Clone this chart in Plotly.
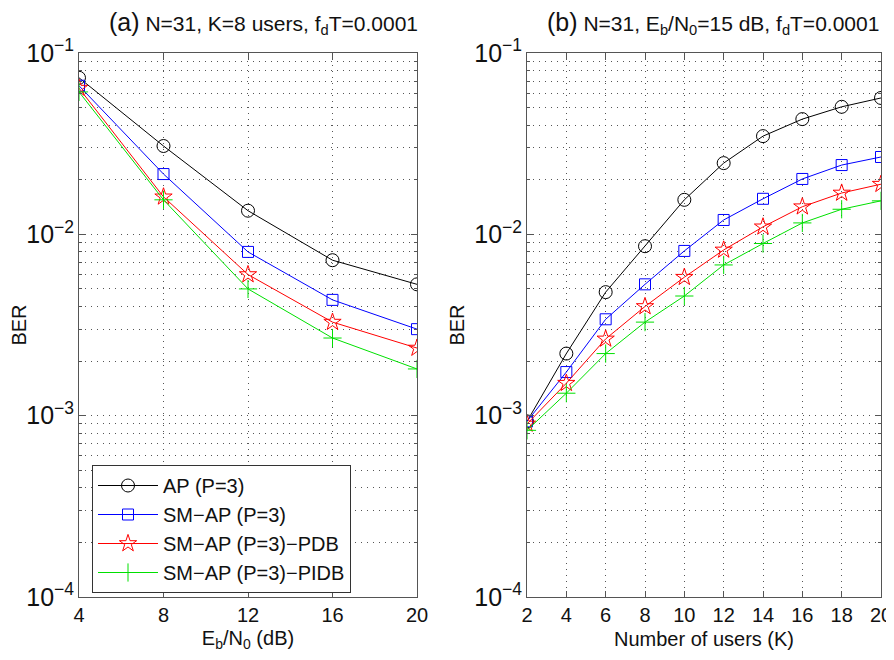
import plotly.graph_objects as go

snr = [4, 8, 12, 16, 20]
a_ap = [0.073, 0.0307, 0.0135, 0.0072, 0.0053]
a_sm = [0.066, 0.0215, 0.0080, 0.00435, 0.0030]
a_pdb = [0.064, 0.0161, 0.0060, 0.00328, 0.00236]
a_pidb = [0.061, 0.0155, 0.0050, 0.00268, 0.00181]

users = [2, 4, 6, 8, 10, 12, 14, 16, 18, 20]
b_ap = [0.00093, 0.0022, 0.0048, 0.0086, 0.0155, 0.0247, 0.0348, 0.0432, 0.0505, 0.0565]
b_sm = [0.00093, 0.00174, 0.0034, 0.0053, 0.0081, 0.0120, 0.0157, 0.0202, 0.0241, 0.0267]
b_pdb = [0.00090, 0.00151, 0.00265, 0.0040, 0.0058, 0.0082, 0.0110, 0.0142, 0.0169, 0.0189]
b_pidb = [0.00083, 0.00133, 0.0022, 0.00328, 0.00457, 0.00678, 0.0089, 0.01156, 0.01375, 0.0153]

names = ["AP (P=3)", "SM\u2212AP (P=3)", "SM\u2212AP (P=3)\u2212PDB", "SM\u2212AP (P=3)\u2212PIDB"]
colors = ["#000000", "#0000ff", "#ff0000", "#00e000"]
symbols = ["circle-open", "square-open", "star-open", "cross-thin-open"]
sizes = [13, 11, 13, 13]

FONT = "Liberation Sans, Arial, sans-serif"
FS = 20
fig = go.Figure()

for i, ys in enumerate([a_ap, a_sm, a_pdb, a_pidb]):
    fig.add_trace(go.Scatter(x=snr, y=ys, mode="lines+markers", name=names[i],
                             line=dict(color=colors[i], width=1),
                             marker=dict(symbol=symbols[i], size=sizes[i], color=colors[i],
                                         line=dict(color=colors[i], width=1)),
                             xaxis="x", yaxis="y", showlegend=True))
for i, ys in enumerate([b_ap, b_sm, b_pdb, b_pidb]):
    fig.add_trace(go.Scatter(x=users, y=ys, mode="lines+markers", name=names[i],
                             line=dict(color=colors[i], width=1),
                             marker=dict(symbol=symbols[i], size=sizes[i], color=colors[i],
                                         line=dict(color=colors[i], width=1)),
                             xaxis="x2", yaxis="y2", showlegend=False))

# page has an 8px body margin; figure is sized to fit inside the window
OFF = 8
W, H = 886, 644
def px_x(p):
    return (p - OFF) / W
def px_y(p):
    return 1 - (p - OFF) / H

GRIDC = "#555555"
DASH = "1px,5px"
grid = dict(showgrid=True, gridcolor=GRIDC, griddash=DASH, gridwidth=1)
common_y = dict(type="log", range=[-4, -1], dtick=1, exponentformat="power",
                showexponent="all", ticks="inside", ticklen=6, tickcolor="#555",
                showline=True, linecolor="#555", linewidth=1, mirror="ticks",
                tickfont=dict(size=FS, color="#111", family=FONT), automargin=False,
                minor=dict(dtick="D1", ticks="inside", ticklen=3, tickcolor="#555",
                           showgrid=True, gridcolor=GRIDC, griddash=DASH, gridwidth=1),
                zeroline=False, **grid)
common_x = dict(ticks="inside", ticklen=6, tickcolor="#555", automargin=False,
                ticklabeloverflow="allow",
                showline=True, linecolor="#555", linewidth=1, mirror="ticks",
                tickfont=dict(size=FS, color="#111", family=FONT), zeroline=False, **grid)

fig.update_layout(
    width=W, height=H, margin=dict(l=0, r=0, t=0, b=0),
    paper_bgcolor="white", plot_bgcolor="white",
    font=dict(family=FONT, color="#111"),
    xaxis=dict(domain=[px_x(79), px_x(417)], range=[4, 20], tickvals=snr, anchor="y",
               title=dict(text="E<sub>b</sub>/N<sub>0</sub> (dB)", font=dict(size=FS), standoff=6),
               **common_x),
    yaxis=dict(domain=[px_y(597), px_y(53)], anchor="x",
               title=dict(text="BER", font=dict(size=FS), standoff=4), **common_y),
    xaxis2=dict(domain=[px_x(527), px_x(881)], range=[2, 20], tickvals=users, anchor="y2",
                title=dict(text="Number of users (K)", font=dict(size=FS), standoff=6),
                **common_x),
    yaxis2=dict(domain=[px_y(597), px_y(53)], anchor="x2",
                title=dict(text="BER", font=dict(size=FS), standoff=4), **common_y),
    legend=dict(x=px_x(92), y=px_y(465), xanchor="left", yanchor="top",
                bgcolor="white", bordercolor="#333", borderwidth=1,
                font=dict(size=FS, family=FONT, color="#111"), itemwidth=60,
                tracegroupgap=0),
    annotations=[
        dict(text="<span style='font-size:25px'>(a)</span> N=31, K=8 users, f<sub>d</sub>T=0.0001",
             x=px_x(263), y=px_y(23), xref="paper", yref="paper", showarrow=False,
             xanchor="center", yanchor="middle", font=dict(size=21, family=FONT, color="#111")),
        dict(text="<span style='font-size:25px'>(b)</span> N=31, E<sub>b</sub>/N<sub>0</sub>=15 dB, f<sub>d</sub>T=0.0001",
             x=px_x(713), y=px_y(23), xref="paper", yref="paper", showarrow=False,
             xanchor="center", yanchor="middle", font=dict(size=21, family=FONT, color="#111")),
    ],
)

fig.write_html("out.html")
